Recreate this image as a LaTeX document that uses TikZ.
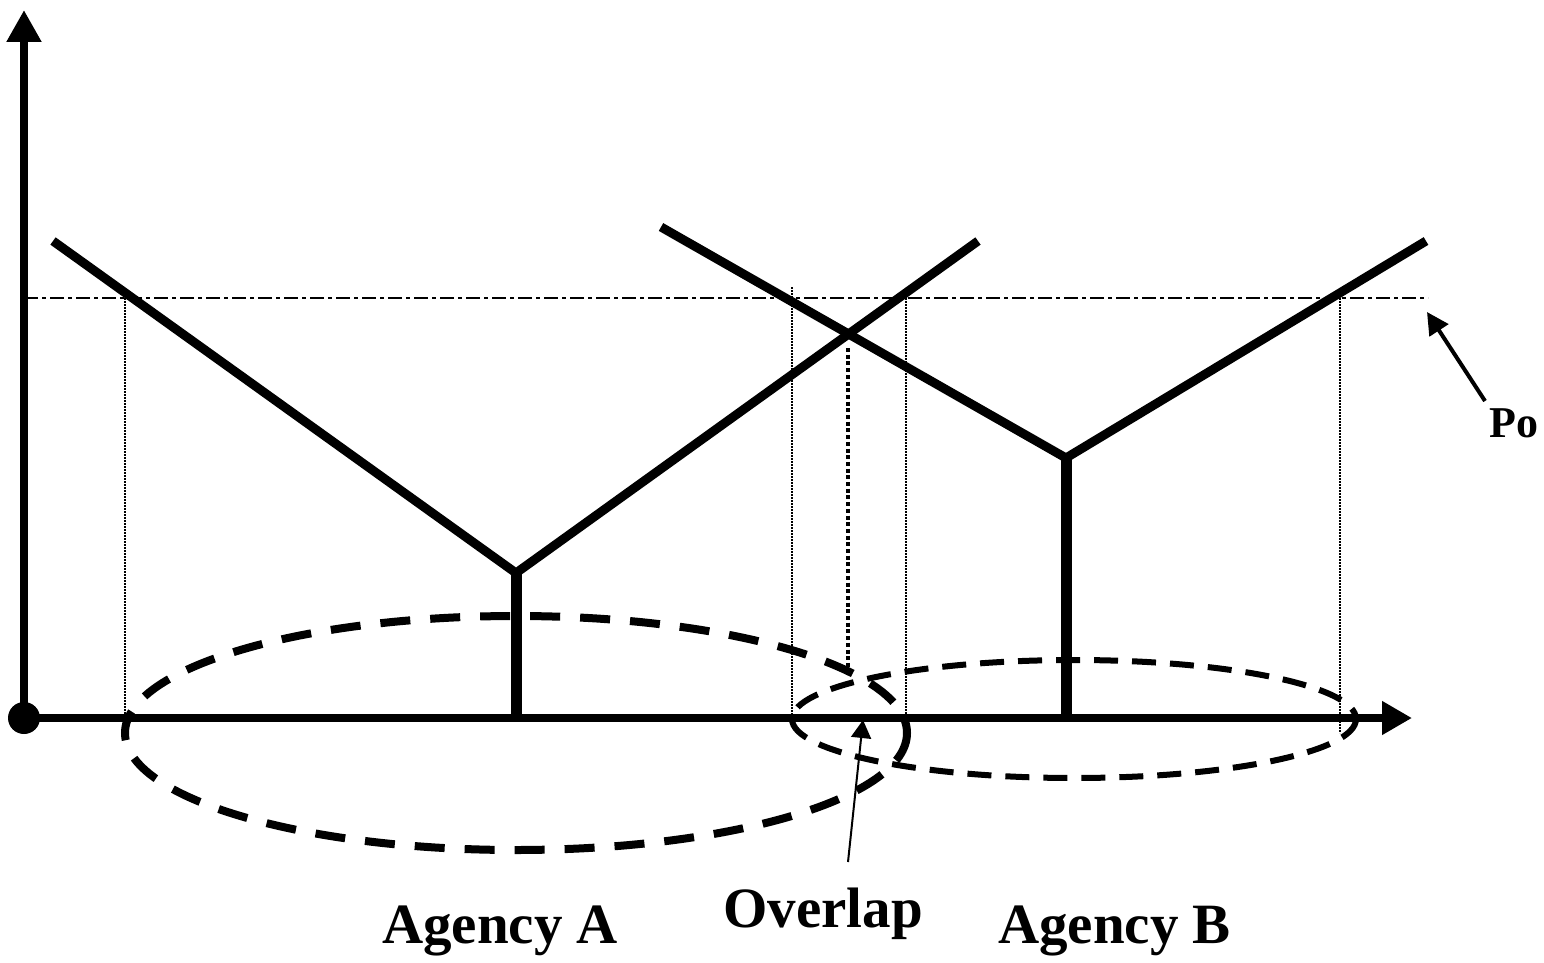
\documentclass[tikz,border=0pt]{standalone}
\usepackage{fontspec}
\setmainfont{Liberation Serif}
\usetikzlibrary{arrows.meta}
\begin{document}
\begin{tikzpicture}[x=1pt,y=-1pt,
  axisline/.style={line width=8pt},
  armline/.style={line width=9pt},
  stemline/.style={line width=11pt},
  poline/.style={line width=2pt,dash pattern=on 14pt off 4pt on 4pt off 4pt},
  guide/.style={line width=1.6pt,dash pattern=on 1.6pt off 1.4pt},
  midguide/.style={line width=3.5pt,dash pattern=on 4pt off 2.7pt},
  ellA/.style={line width=8pt,dash pattern=on 30pt off 20pt},
  ellB/.style={line width=6pt,dash pattern=on 24pt off 14pt},
  pointer/.style={line width=2pt},
  lbl/.style={font=\bfseries\fontsize{57}{57}\selectfont,inner sep=0pt,anchor=base west},
]
\useasboundingbox (0,0) rectangle (1544,963);
\fill[white] (0,0) rectangle (1544,963);
% coordinates
\coordinate (O) at (24,718);
\coordinate (Ytip) at (24,10);
\coordinate (Xtip) at (1412,718);
\coordinate (PoL) at (24,298);
\coordinate (PoR) at (1428,298);
\coordinate (AL) at (53,241);
\coordinate (AV) at (516,573);
\coordinate (AR) at (978,241);
\coordinate (A0) at (516,718);
\coordinate (BL) at (661,227);
\coordinate (BV) at (1066,458);
\coordinate (BR) at (1426,241);
\coordinate (B0) at (1066,718);
% dash-dot Po line
\draw[poline] (PoL) -- (PoR);
% dotted guides
\coordinate (g1t) at (125,298); \coordinate (g1b) at (125,718);
\coordinate (g2t) at (792,287); \coordinate (g2b) at (792,718);
\coordinate (g3t) at (906,298); \coordinate (g3b) at (906,718);
\coordinate (g4t) at (1340,298); \coordinate (g4b) at (1340,733);
\coordinate (gmt) at (848,348); \coordinate (gmb) at (848,668);
\draw[guide] (g1t) -- (g1b);
\draw[guide] (g2t) -- (g2b);
\draw[guide] (g3t) -- (g3b);
\draw[guide] (g4t) -- (g4b);
\draw[midguide] (gmt) -- (gmb);
% ellipses
\draw[ellA] (516,733) ellipse [x radius=391, y radius=117];
\draw[ellB] (1074,719) ellipse [x radius=282, y radius=59];
% axes
\draw[axisline,-{Triangle[length=32pt,width=33pt]}] (O) -- (Ytip);
\draw[axisline,-{Triangle[length=30pt,width=32pt]}] (O) -- (Xtip);
\fill (O) circle[radius=16];
% V curves
\draw[armline,line join=miter] (AL) -- (AV) -- (AR);
\draw[stemline] (AV) -- (A0);
\draw[armline,line join=miter] (BL) -- (BV) -- (BR);
\draw[stemline] (BV) -- (B0);
% labels
\node[lbl] (la) at (382,943) {Agency A};
\node[lbl] (lo) at (723,927) {Overlap};
\node[lbl] (lb) at (998,943) {Agency B};
\node[font=\bfseries\fontsize{44}{44}\selectfont,inner sep=0pt,anchor=base west] (po) at (1489,437) {Po};
% pointers
\coordinate (ovtip) at (863,720);
\coordinate (ovtail) at (848,862);
\draw[pointer,-{Triangle[length=18pt,width=20pt]}] (ovtail) -- (ovtip);
\coordinate (potip) at (1427,312);
\coordinate (potail) at (1485,401);
\draw[line width=4pt,-{Triangle[length=22pt,width=22pt]}] (potail) -- (potip);
\end{tikzpicture}
\end{document}
